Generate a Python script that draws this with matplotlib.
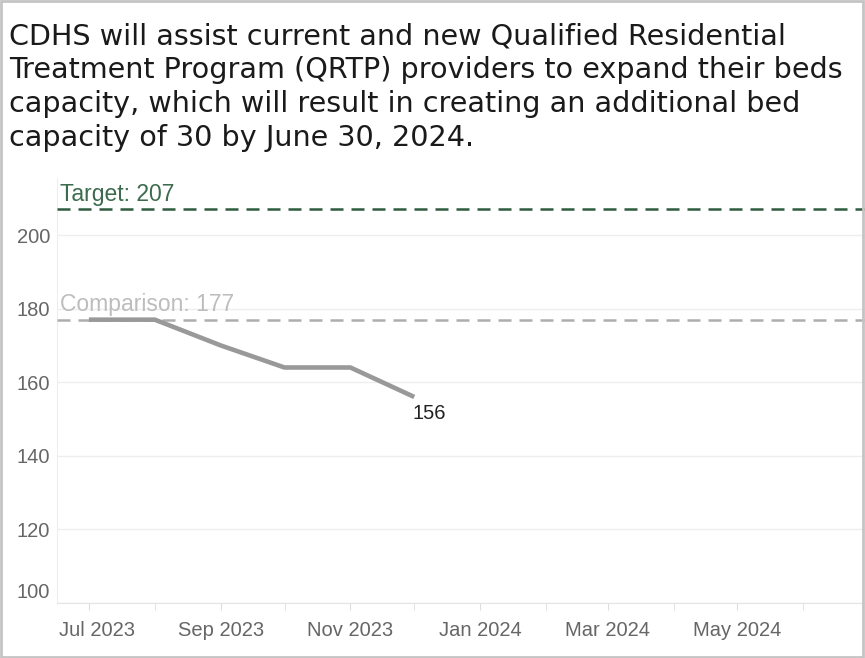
import matplotlib.pyplot as plt
import matplotlib.dates as mdates
import matplotlib.transforms as mtransforms
from matplotlib.patches import Rectangle
import datetime as dt

# monthly QRTP bed capacity
months = [dt.date(2023, 7, 1), dt.date(2023, 8, 1), dt.date(2023, 9, 1),
          dt.date(2023, 10, 1), dt.date(2023, 11, 1), dt.date(2023, 12, 1)]
beds = [177, 177, 170, 164, 164, 156]

target = 207
comparison = 177

title = ("CDHS will assist current and new Qualified Residential\n"
         "Treatment Program (QRTP) providers to expand their beds\n"
         "capacity, which will result in creating an additional bed\n"
         "capacity of 30 by June 30, 2024.")

fig = plt.figure(figsize=(8.65, 6.58), dpi=100)
ax = fig.add_axes([57 / 865, 55 / 658, 1 - 57 / 865, 425 / 658])

fig.text(9 / 865, 1 - 22 / 658, title, fontsize=20.6, family='DejaVu Sans',
         color='#1a1a1a', va='top', ha='left', linespacing=1.28)

# reference lines
ax.axhline(target, color='#2e5a3e', lw=1.8, dashes=(5.2, 3.2), zorder=3)
ax.axhline(comparison, color='#adadad', lw=1.8, dashes=(5.2, 3.2), zorder=3)

xmin = mdates.date2num(dt.date(2023, 6, 16))
xmax = mdates.date2num(dt.date(2024, 6, 30))
ax.text(xmin + 1.5, target + 0.9, 'Target: %d' % target, color='#3d6b4d',
        fontsize=16.5, family='Liberation Sans', va='bottom', ha='left')
ax.text(xmin + 1.5, comparison + 0.9, 'Comparison: %d' % comparison, color='#bdbdbd',
        fontsize=16.5, family='Liberation Sans', va='bottom', ha='left')

ax.plot(months, beds, color='#999999', lw=3.3, solid_capstyle='butt', zorder=4)
ax.annotate(str(beds[-1]), (mdates.date2num(months[-1]), beds[-1]),
            xytext=(11, -5), textcoords='offset points', ha='center', va='top',
            fontsize=14.5, family='Liberation Sans', color='#222222')

ax.set_xlim(xmin, xmax)
ax.set_ylim(100, 215.5)
ax.set_yticks([100, 120, 140, 160, 180, 200])
ax.grid(axis='y', color='#eeeeee', lw=1)
ax.set_axisbelow(True)

ax.xaxis.set_major_locator(mdates.MonthLocator(bymonth=[1, 3, 5, 7, 9, 11]))
ax.xaxis.set_major_formatter(mdates.DateFormatter('%b %Y'))
ax.xaxis.set_minor_locator(mdates.MonthLocator())
ax.tick_params(axis='x', which='both', length=5, color='#dddddd', pad=8,
               labelsize=14.5, labelcolor='#666666')
ax.tick_params(axis='y', length=0, pad=5, labelsize=14.5, labelcolor='#666666')
for lab in ax.get_xticklabels() + ax.get_yticklabels():
    lab.set_family('Liberation Sans')

fig.canvas.draw()
# keep the first month label and the bottom value label inside the frame
xlabs = ax.get_xticklabels()
xlabs[0].set_transform(xlabs[0].get_transform() +
                       mtransforms.ScaledTranslation(8 / 100, 0, fig.dpi_scale_trans))
ylabs = ax.get_yticklabels()
ylabs[0].set_transform(ylabs[0].get_transform() +
                       mtransforms.ScaledTranslation(0, 12 / 100, fig.dpi_scale_trans))

for side in ['top', 'right']:
    ax.spines[side].set_visible(False)
ax.spines['left'].set_color('#eeeeee')
ax.spines['bottom'].set_color('#e4e4e4')

# frame around the whole figure
fig.patches.append(Rectangle((0.001, 0.002), 0.997, 0.996, transform=fig.transFigure,
                             fill=False, edgecolor='#c4c4c4', lw=2))

fig.savefig('out.png', dpi=100)
